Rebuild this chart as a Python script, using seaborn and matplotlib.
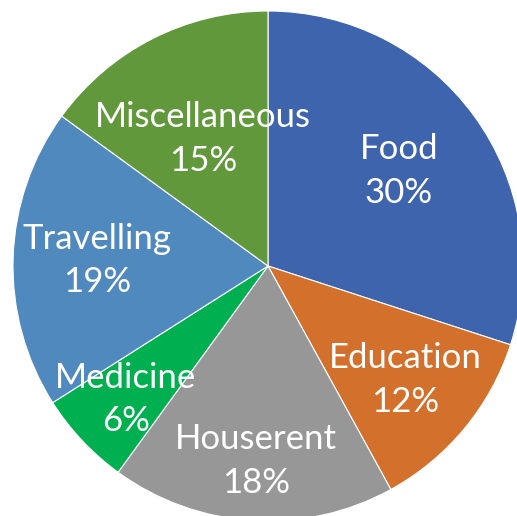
import matplotlib
matplotlib.use("Agg")
import matplotlib.pyplot as plt
import seaborn as sns

categories = ["Food", "Education", "Houserent", "Medicine", "Travelling", "Miscellaneous"]
values = [30, 12, 18, 6, 19, 15]
colors = ["#3E64AE", "#D2702C", "#979797", "#00B050", "#5089BE", "#62983C"]
label_radius = [0.635, 0.70, 0.765, 0.765, 0.67, 0.56]

sns.set_theme(style="white")
plt.rcParams['font.family'] = ['Lato', 'DejaVu Sans']

fig = plt.figure(figsize=(5.17, 5.16), dpi=100)
ax = fig.add_axes([0, 0, 1, 1])

labels = [f"{c}\n{v}%" for c, v in zip(categories, values)]
wedges, texts = ax.pie(values, labels=labels, colors=colors, startangle=90,
                       counterclock=False, labeldistance=1.0,
                       wedgeprops=dict(edgecolor="white", linewidth=0.8),
                       textprops=dict(color="white", fontsize=25))
for t, r in zip(texts, label_radius):
    x, y = t.get_position()
    t.set_position((x * r, y * r))
    t.set_ha("center")
    t.set_va("center")
    t.set_linespacing(1.45)

ax.set_xlim(-268 / 255, (517 - 268) / 255)
ax.set_ylim((266 - 516) / 255, 266 / 255)
ax.set_aspect("auto")
ax.axis("off")
fig.savefig("out.png", dpi=100)
